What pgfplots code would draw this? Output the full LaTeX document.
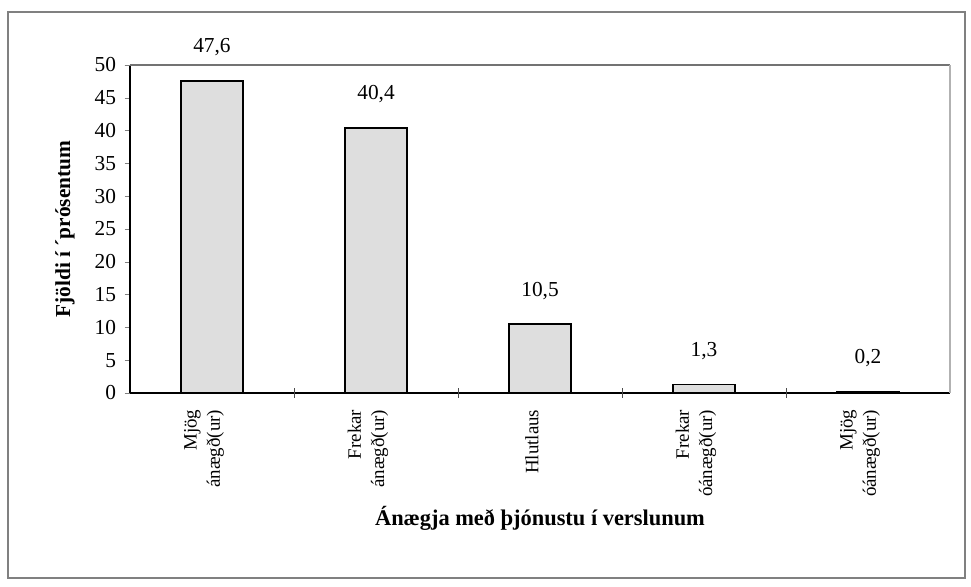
\documentclass[border=0pt]{standalone}
\usepackage{pgfplots}
\pgfplotsset{compat=1.18}
\usepackage{fontspec}
\setmainfont{Liberation Serif}
\begin{document}
\begin{tikzpicture}[x=0.75pt,y=0.75pt]
\useasboundingbox (-130,-193) rectangle (841,393);
\draw[black!50, line width=0.8pt] (-122,-185) rectangle (835,381);
\begin{axis}[
  at={(0,0)}, anchor=south west,
  scale only axis, width=615pt, height=246pt,
  xmin=0.5, xmax=5.5, ymin=0, ymax=50,
  axis lines*=left,
  axis line style={black, line width=0.8pt},
  ytick={0,5,...,50},
  tick align=outside, major tick length=4pt,
  xtick={1,2,3,4,5},
  xticklabels={{Mjög\\ánægð(ur)},{Frekar\\ánægð(ur)},{Hlutlaus},{Frekar\\óánægð(ur)},{Mjög\\óánægð(ur)}},
  major x tick style={draw=none},
  extra x ticks={1.5,2.5,3.5,4.5},
  extra x tick labels={},
  extra x tick style={major x tick style={draw=black!70}, tick align=center, major tick length=7pt},
  extra y ticks={50}, extra y tick labels={},
  extra y tick style={ymajorgrids=true, major grid style={black!55, line width=0.8pt}},
  xticklabel shift=5pt,
  yticklabel shift=3pt,
  xticklabel style={rotate=90, anchor=east, align=right, yshift=6pt, font=\fontsize{14.2}{17.5}\selectfont},
  yticklabel style={font=\fontsize{16}{18}\selectfont},
  /pgf/number format/assume math mode=true,
  ylabel={\textbf{Fjöldi í ´prósentum}},
  ylabel style={at={(axis description cs:-0.0793,0.5)}, anchor=center, font=\fontsize{16}{18}\selectfont},
  xlabel={\textbf{Ánægja með þjónustu í verslunum}},
  xlabel style={at={(axis description cs:0.5,-0.381)}, anchor=center, font=\fontsize{16.8}{19}\selectfont},
  ybar, bar width=47pt,
  nodes near coords,
  point meta=explicit symbolic,
  every node near coord/.append style={anchor=base, yshift=21pt, font=\fontsize{16}{18}\selectfont},
  clip=false,
]
\addplot[fill=black!13, draw=black, line width=1.3pt] coordinates {
  (1,47.6) [47,6]
  (2,40.4) [40,4]
  (3,10.5) [10,5]
  (4,1.3) [1,3]
  (5,0.2) [0,2]
};
\draw[black!30, line width=0.8pt] (axis cs:5.5,0) -- (axis cs:5.5,50);
\end{axis}
\end{tikzpicture}
\end{document}
